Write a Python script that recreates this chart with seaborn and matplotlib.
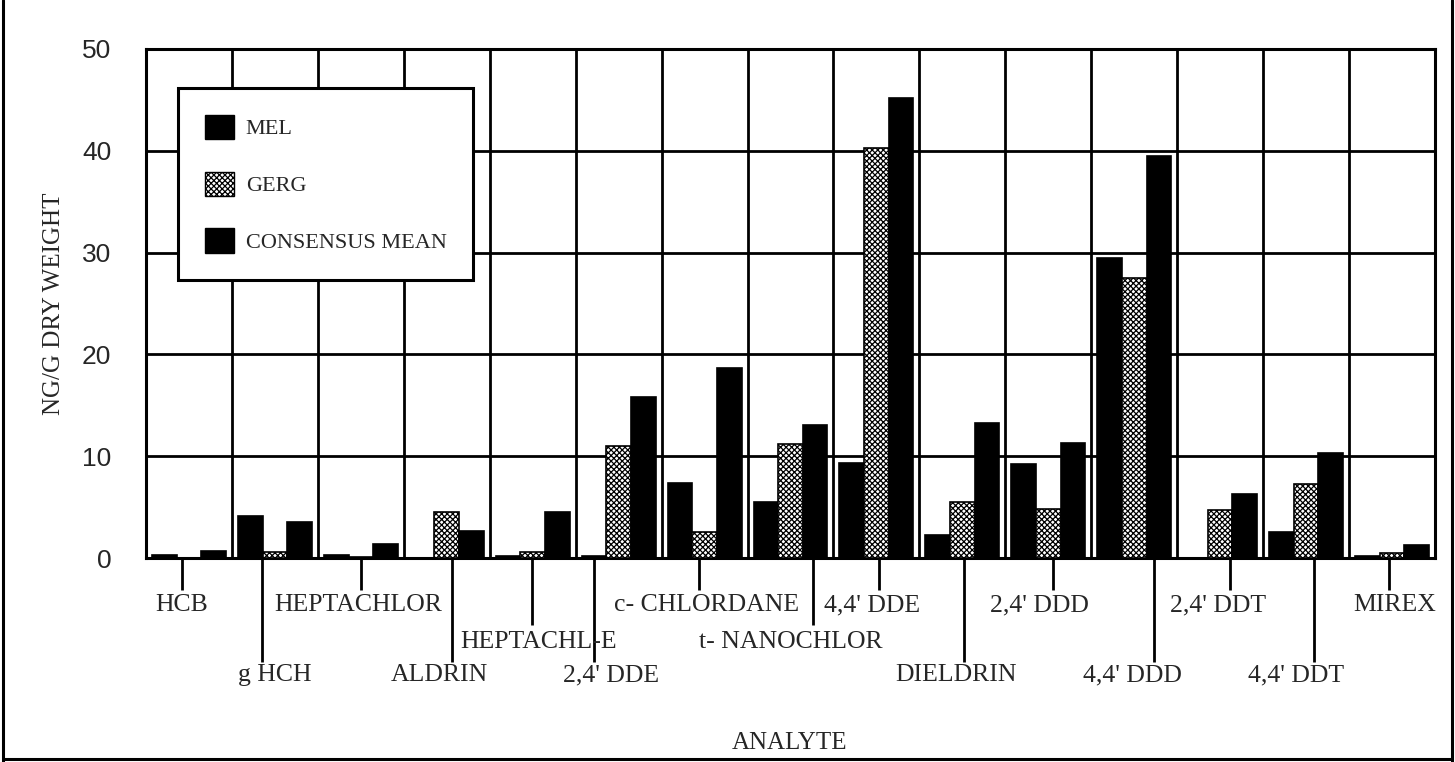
import numpy as np
import pandas as pd
import matplotlib
matplotlib.use("Agg")
import matplotlib.pyplot as plt
import seaborn as sns
from matplotlib.patches import Patch
from matplotlib.lines import Line2D
from matplotlib.transforms import blended_transform_factory

# data (ng/g dry weight)
ANALYTES = ["HCB", "g HCH", "HEPTACHLOR", "ALDRIN", "HEPTACHL-E", "2,4' DDE",
            "c- CHLORDANE", "t- NANOCHLOR", "4,4' DDE", "DIELDRIN", "2,4' DDD",
            "4,4' DDD", "2,4' DDT", "4,4' DDT", "MIREX"]
MEL = [0.3, 4.1, 0.3, 0.0, 0.2, 0.2, 7.4, 5.5, 9.3, 2.3, 9.2, 29.5, 0.0, 2.6, 0.2]
GERG = [0.0, 0.6, 0.1, 4.5, 0.6, 11.0, 2.6, 11.2, 40.3, 5.5, 4.8, 27.5, 4.7, 7.3, 0.5]
CONSENSUS = [0.7, 3.5, 1.4, 2.7, 4.5, 15.8, 18.7, 13.1, 45.2, 13.3, 11.3, 39.5, 6.3, 10.3, 1.3]
SERIES = ["MEL", "GERG", "CONSENSUS MEAN"]

# label layout: staggered rows, label and leader line shifts (in category units)
LABEL_ROW = [1, 3, 1, 3, 2, 3, 1, 2, 1, 3, 1, 3, 1, 3, 1]
LABEL_SHIFT = [-0.08, 0.0, -0.03, -0.09, 0.07, -0.09, 0.02, 0.0, -0.05, -0.07,
               -0.1, -0.02, -0.02, -0.12, 0.03]
LEADER_SHIFT = [-0.08, -0.15, 0.0, 0.06, -0.01, -0.29, -0.07, 0.26, 0.03, 0.02,
                0.06, 0.23, 0.12, 0.09, -0.03]

sns.set_style("white")
plt.rcParams["font.family"] = ["Liberation Serif", "DejaVu Serif"]
plt.rcParams["hatch.linewidth"] = 0.9

df = pd.DataFrame({
    "analyte": ANALYTES * 3,
    "series": [SERIES[0]] * 15 + [SERIES[1]] * 15 + [SERIES[2]] * 15,
    "value": MEL + GERG + CONSENSUS,
})

fig = plt.figure(figsize=(14.55, 7.62), dpi=100)
ax = fig.add_axes([146 / 1455, 1 - 558 / 762, 1289 / 1455, 509 / 762])

sns.barplot(data=df, x="analyte", y="value", hue="series", order=ANALYTES,
            hue_order=SERIES, palette=["black", "white", "black"], width=0.86,
            saturation=1, edgecolor="black", linewidth=1.2, legend=False, ax=ax,
            zorder=3)
for patch in ax.containers[1]:
    patch.set_hatch("xxxxxx")
    patch.set_facecolor("white")

ax.set_xlim(-0.5, 14.5)
ax.set_ylim(0, 50)
ax.set_yticks(np.arange(0, 51, 10))
ax.set_xticks(range(len(ANALYTES)))
ax.set_xticklabels([""] * len(ANALYTES))
ax.set_xticks(np.arange(-0.5, 15, 1), minor=True)
ax.tick_params(axis="x", which="major", length=0)
ax.tick_params(axis="x", which="minor", length=7, width=2, direction="out", color="black")
ax.tick_params(axis="y", length=7, width=2, direction="out", color="black", pad=18,
               labelsize=19)
for lab in ax.get_yticklabels():
    lab.set_fontfamily("Liberation Sans")
ax.grid(True, axis="y", which="major", color="black", linewidth=2, zorder=1)
ax.grid(True, axis="x", which="minor", color="black", linewidth=2, zorder=1)
ax.set_axisbelow(True)
for sp in ax.spines.values():
    sp.set_color("black")
    sp.set_linewidth(2.2)

ax.set_xlabel("")
ax.set_ylabel("NG/G DRY WEIGHT", fontsize=18, labelpad=12)

# staggered category labels with leader lines
trans = blended_transform_factory(ax.transData, ax.transAxes)
row_text = {1: -47 / 509, 2: -84 / 509, 3: -117 / 509}
row_line = {1: -32 / 509, 2: -67 / 509, 3: -104 / 509}
for i, name in enumerate(ANALYTES):
    r = LABEL_ROW[i]
    lx = i + LEADER_SHIFT[i]
    ax.plot([lx, lx], [0, row_line[r]], transform=trans, color="black", lw=2,
            clip_on=False, solid_capstyle="butt")
    ax.text(i + LABEL_SHIFT[i], row_text[r], name, transform=trans, ha="center",
            va="center", fontsize=18.5, clip_on=False)

fig.text(790 / 1455, 1 - 743 / 762, "ANALYTE", ha="center", va="center", fontsize=18)

handles = [Patch(facecolor="black", edgecolor="black"),
           Patch(facecolor="white", edgecolor="black", hatch="xxxxxx"),
           Patch(facecolor="black", edgecolor="black")]
leg = ax.legend(handles, SERIES, loc="upper left", bbox_to_anchor=(0.0248, 0.923),
                borderaxespad=0, fontsize=16, frameon=True, fancybox=False,
                handlelength=1.3, handleheight=1.3, handletextpad=0.55,
                labelspacing=1.45, borderpad=1.2)
leg.get_frame().set_edgecolor("black")
leg.get_frame().set_linewidth(2.2)
leg.get_frame().set_alpha(1)
leg.set_zorder(5)

# outer frame of the figure
for xs, ys in [([3 / 1455, 3 / 1455], [0, 1]),
               ([1452 / 1455, 1452 / 1455], [0, 1]),
               ([3 / 1455, 1452 / 1455], [3 / 762, 3 / 762])]:
    fig.add_artist(Line2D(xs, ys, color="black", lw=2.2))

fig.savefig("out.png", dpi=100)
